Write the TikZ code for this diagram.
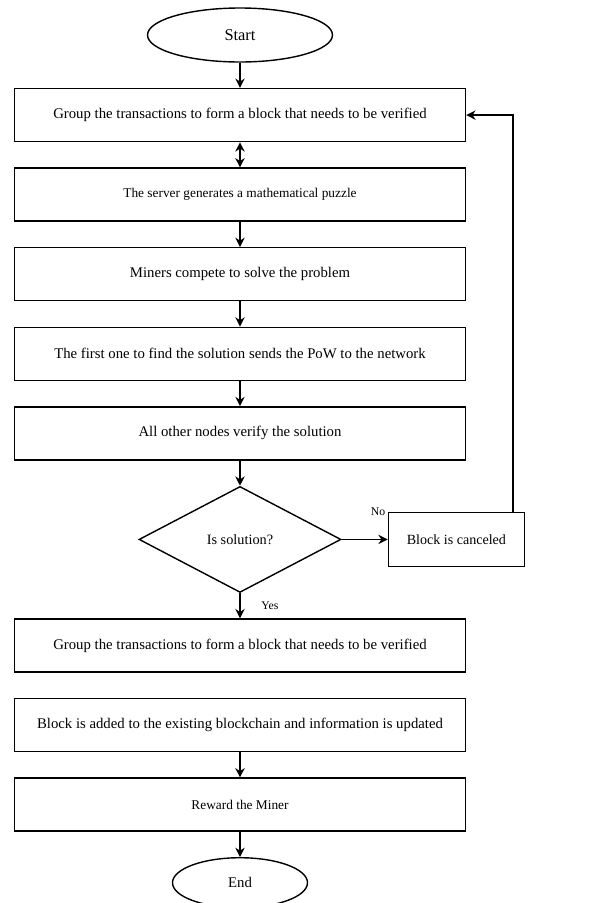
\documentclass[tikz,border=0pt]{standalone}
\usepackage{fontspec}
\setmainfont{Liberation Serif}
\usepackage{tikz}
\usetikzlibrary{calc}
\usetikzlibrary{shapes.geometric, arrows.meta, positioning}
\tikzstyle{terminal} = [ellipse, draw=black, very thick, minimum width=5.55cm, minimum height=1.62cm, font=\fontsize{14}{16}\selectfont]
\tikzstyle{process} = [rectangle, draw=black, very thick, minimum width=13.53cm, minimum height=1.59cm, text centered, font=\fontsize{12.6}{15}\selectfont]
\tikzstyle{smalltext} = [font=\fontsize{11.4}{14}\selectfont]
\tikzstyle{decision} = [diamond, aspect=1.9, draw=black, very thick, minimum width=6.06cm, minimum height=3.18cm, inner sep=0pt, font=\fontsize{12.2}{15}\selectfont]
\tikzstyle{tag} = [font=\fontsize{10}{12}\selectfont, inner sep=2pt]
\tikzstyle{arrow} = [very thick,->,>={Stealth[length=2.8mm,width=2.8mm]}]

\begin{document}
\begin{tikzpicture}[node distance=0.755cm]
\useasboundingbox (-7.2,1.05) rectangle (11.28,-26.04);

\node(start)[terminal] at (0,0) {Start};
\node(group)[process, below=of start] {Group the transactions to form a block that needs to be verified};
\node(puzzle)[process, smalltext, below=of group] {The server generates a mathematical puzzle};
\node(compete)[process, below=of puzzle] {Miners compete to solve the problem};
\node(pow)[process, below=of compete] {The first one to find the solution sends the PoW to the network};
\node(verify)[process, below=of pow] {All other nodes verify the solution};
\node(check)[decision, below=of verify] {Is solution?};
\node(cancel)[process, right=1.38cm of check, minimum width=4.08cm, minimum height=1.62cm, font=\fontsize{12}{14}\selectfont] {Block is canceled};
\node(groupb)[process, below=of check] {Group the transactions to form a block that needs to be verified};
\node(added)[process, below=of groupb] {Block is added to the existing blockchain and information is updated};
\node(reward)[process, smalltext, below=of added] {Reward the Miner};
\node(stop)[terminal, below=of reward, minimum width=4.05cm, minimum height=1.5cm, font=\fontsize{12.6}{15}\selectfont] {End};

\node(nolabel)[tag, anchor=east] at (cancel.north west) {No};

\draw [arrow] (start) -- (group);
\draw [arrow,<->] (group) -- (puzzle);
\draw [arrow] (puzzle) -- (compete);
\draw [arrow] (compete) -- (pow);
\draw [arrow] (pow) -- (verify);
\draw [arrow] (verify) -- (check);
\draw [arrow] (check) -- (cancel);
\draw [arrow] (check) -- node(yeslabel)[tag, anchor=west, xshift=0.55cm] {Yes} (groupb);
\draw [arrow] (added) -- (reward);
\draw [arrow] (reward) -- (stop);

\draw [arrow] ($(cancel.north east)+(-0.36,0)$) |- (group.east);
\end{tikzpicture}
\end{document}
